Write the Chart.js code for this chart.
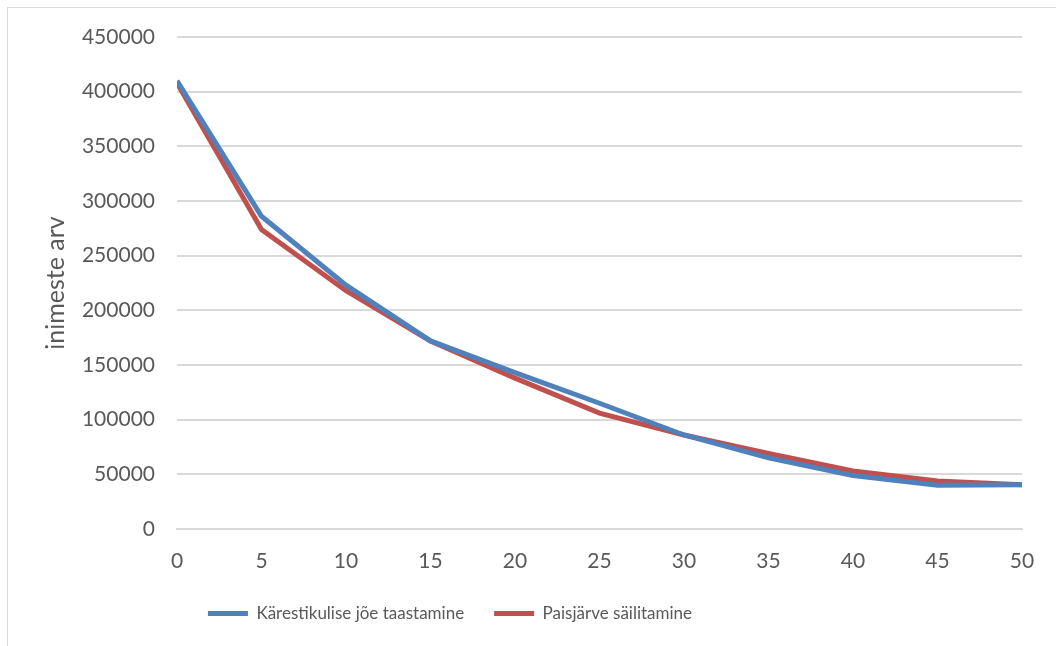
<!DOCTYPE html>
<html>
<head>
<meta charset="utf-8">
<script src="https://cdn.jsdelivr.net/npm/chart.js@4/dist/chart.umd.min.js"></script>
<style>
    html, body { margin: 0; padding: 0; background: #fff; overflow: hidden; }
    #frame { position: absolute; left: 7px; top: 7px; width: 1200px; height: 800px; border: 1px solid #d9d9d9; }
    #wrap { position: absolute; left: 0; top: 0; width: 1056px; height: 646px; }
</style>
</head>
<body>
<div id="frame"></div>
<div id="wrap"><canvas id="chart" width="1056" height="646"></canvas></div>
<script>
// years
const years = [0, 5, 10, 15, 20, 25, 30, 35, 40, 45, 50];

// inimeste arv per scenario
const rapidsRestoration = [410000, 286000, 223000, 172000, 143000, 115000, 86000, 65000, 49000, 40000, 40500];
const reservoirKept = [408000, 274000, 218000, 172000, 138000, 106000, 86000, 69000, 53000, 44000, 40500];

const seriesNames = ['Kärestikulise jõe taastamine', 'Paisjärve säilitamine'];
const yAxisTitle = 'inimeste arv';

const textColor = '#595959';
const gridColor = '#d9d9d9';
const fontFamily = 'Lato, "Open Sans", sans-serif';

function toPoints(values) {
    return years.map((x, i) => ({ x: x, y: values[i] }));
}

// move the legend a bit left, like in the original sheet
const legendShift = {
    id: 'legendShift',
    afterLayout(chart) {
        const lg = chart.legend;
        lg.left -= 69;
        lg.right -= 69;
    }
};

Chart.defaults.font.family = fontFamily;
Chart.defaults.font.size = 21;
Chart.defaults.color = textColor;

const ctx = document.getElementById('chart').getContext('2d');
new Chart(ctx, {
    type: 'line',
    data: {
        datasets: [{
            label: seriesNames[0],
            data: toPoints(rapidsRestoration),
            borderColor: '#4f81bd',
            backgroundColor: '#4f81bd',
            borderWidth: 5,
            pointRadius: 0,
            tension: 0
        }, {
            label: seriesNames[1],
            data: toPoints(reservoirKept),
            borderColor: '#c0504d',
            backgroundColor: '#c0504d',
            borderWidth: 5,
            pointRadius: 0,
            tension: 0
        }]
    },
    plugins: [legendShift],
    options: {
        responsive: false,
        animation: false,
        maintainAspectRatio: false,
        layout: { padding: { left: 16, right: 34, top: 37, bottom: 14 } },
        plugins: {
            legend: {
                position: 'bottom',
                labels: {
                    usePointStyle: true,
                    pointStyle: 'line',
                    pointStyleWidth: 40,
                    boxHeight: 5,
                    padding: 30,
                    color: textColor,
                    font: { size: 17 }
                }
            },
            tooltip: { enabled: false }
        },
        scales: {
            x: {
                type: 'linear',
                min: 0,
                max: 50,
                ticks: { stepSize: 5, padding: 12, color: textColor, maxRotation: 0 },
                grid: { display: false },
                border: { display: true, color: gridColor, width: 2 },
                afterFit(axis) { axis.height = 46; }
            },
            y: {
                min: 0,
                max: 450000,
                ticks: {
                    stepSize: 50000,
                    padding: 22,
                    color: textColor,
                    callback: v => String(v)
                },
                grid: { color: gridColor, lineWidth: 2, drawTicks: false },
                border: { display: false },
                title: { display: true, text: yAxisTitle, color: textColor, font: { size: 25 }, padding: 25 },
                afterFit(axis) { axis.width = 161; }
            }
        }
    }
});
</script>
</body>
</html>
